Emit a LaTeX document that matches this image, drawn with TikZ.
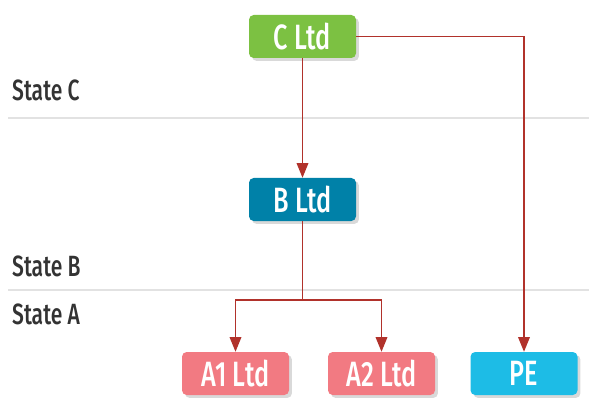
\documentclass[tikz,border=0pt]{standalone}
\usepackage{fontspec}
\setmainfont{Fira Sans}[FakeStretch=0.72, UprightFont={* Medium}]
\usetikzlibrary{arrows.meta,shadows}
\definecolor{cgreen}{HTML}{7CC142}
\definecolor{bteal}{HTML}{0081A8}
\definecolor{apink}{HTML}{F27A82}
\definecolor{pecyan}{HTML}{1DBCE6}
\definecolor{linkred}{HTML}{B1322B}
\definecolor{sepgray}{HTML}{E2E2E2}
\definecolor{labgray}{HTML}{333333}
\tikzset{
  entity/.style={rounded corners=4pt, inner sep=0pt, minimum width=3.21cm, minimum height=1.29cm,
    text=white, font=\fontsize{30}{32}\selectfont,
    drop shadow={shadow xshift=2.5pt,shadow yshift=-2.5pt,opacity=.3}},
  owns/.style={draw=linkred, line width=1.1pt, -{Triangle[length=4.4mm,width=3.5mm]}},
  statelabel/.style={anchor=west, inner sep=0pt, text=labgray, font=\fontsize{25}{27}\selectfont},
  sepline/.style={draw=sepgray, line width=1.5pt}
}
\begin{document}
\begin{tikzpicture}[x=0.03cm,y=-0.03cm]
      \useasboundingbox (0,0) rectangle (589,398);

      \foreach \y in {118,290}
      {
          \draw[sepline] (8,\y)--(589,\y);
      }
      \node[statelabel] (stc) at (12,90) {State C};
      \node[statelabel] (stb) at (12,266) {State B};
      \node[statelabel] (sta) at (12,314) {State A};

      \node[entity, fill=cgreen] (cltd) at (302.5,36.5) {C Ltd};
      \node[entity, fill=bteal] (bltd) at (302.5,199.5) {B Ltd};
      \node[entity, fill=apink] (a1) at (235.5,373.5) {A1 Ltd};
      \node[entity, fill=apink] (a2) at (381.5,373.5) {A2 Ltd};
      \node[entity, fill=pecyan] (pe) at (524,373.5) {PE};

      \coordinate (split) at (302.5,300);
      \draw[owns] (cltd) -- (bltd);
      \draw[owns] (cltd.east) -| (pe.north);
      \draw[draw=linkred, line width=1.1pt] (bltd.south) -- (split);
      \draw[owns] (split) -| (a1.north);
      \draw[owns] (split) -| (a2.north);
\end{tikzpicture}
\end{document}
